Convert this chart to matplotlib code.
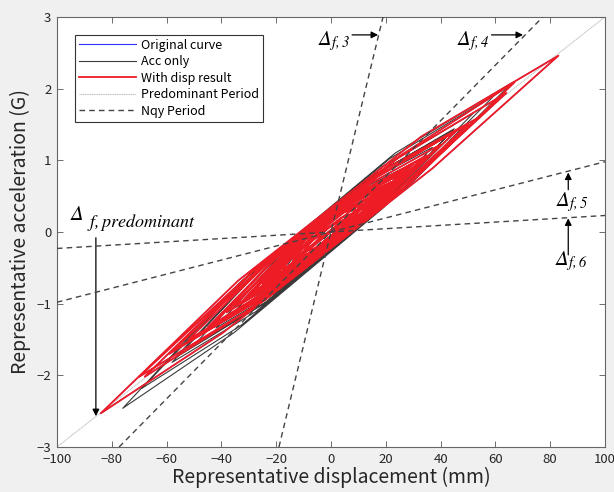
import matplotlib
matplotlib.use('Agg')
import matplotlib.pyplot as plt

plt.rcParams['font.family'] = ['Noto Sans CJK JP', 'DejaVu Sans']
plt.rcParams['mathtext.fontset'] = 'custom'
plt.rcParams['mathtext.rm'] = 'STIXGeneral:italic'
plt.rcParams['mathtext.it'] = 'STIXGeneral:italic'

# "With disp result" trajectory: loop tips and side points
red_x = [0, 3.6, 8.4, 12, 3.9, -6.9, -15, -4.5, 9.5, 20, 6.2, -12.2, -26,
         -7.7, 16.7, 35, 11.3, -20.3, -44, -15.8, 21.8, 50, 17.3, -26.3, -59,
         -21.2, 29.2, 67, 25.9, -28.9, -70, -24.1, 37.1, 83, 32.9, -33.9, -84,
         -39.6, 19.6, 64, 24.4, -28.4, -68, -31.4, 17.4, 54, 20.4, -24.4, -58,
         -26.8, 14.8, 46, 16.6, -22.6, -52, -24.4, 12.4, 40, 14.5, -19.5, -45,
         -21.6, 9.6, 33, 11.7, -16.7, -38, -18.2, 8.2, 28, 10, -14, -32,
         -14.9, 7.9, 25, 9.1, -12.1, -28, -13, 7, 22, 7.9, -10.9, -25,
         -8.5, 13.5, 30, 10.5, -15.5, -35, -19.1, 2.1, 18, 6.3, -9.3, -21,
         -6.9, 11.9, 26, 9.2, -13.2, -30, -16.5, 1.5, 15, 5.1, -8.1, -18,
         -6.6, 8.6, 20, 7.1, -10.1, -23, -12.5, 1.5, 12, 4.2, -6.2, -14,
         -7.1, 2.1, 9, 3.3, -4.3, -10, -5.5, 0.5, 5, -3.1, -13.9, -22,
         -8.2, 10.2, 24, 8.7, -11.7, -27, -14.1, 3.1, 16, 7.6, -3.6, -12,
         -6, 2, 8, 3.8, -1.8, -6, 3]
red_y = [0, 0.05, 0.20, 0.38, 0.29, -0.04, -0.47, -0.22, 0.20, 0.62, 0.38, -0.17, -0.80,
         -0.34, 0.39, 1.07, 0.57, -0.37, -1.33, -0.63, 0.50, 1.50, 0.79, -0.52, -1.70,
         -0.83, 0.69, 2.09, 1.08, -0.56, -2.02, -0.95, 0.89, 2.46, 1.33, -0.68, -2.53,
         -1.41, 0.37, 1.94, 1.03, -0.55, -2.02, -1.13, 0.34, 1.60, 0.89, -0.46, -1.66,
         -0.97, 0.28, 1.42, 0.76, -0.42, -1.50, -0.88, 0.22, 1.22, 0.68, -0.34, -1.33,
         -0.78, 0.15, 1.02, 0.58, -0.28, -1.12, -0.67, 0.13, 0.88, 0.51, -0.21, -0.95,
         -0.56, 0.13, 0.80, 0.48, -0.16, -0.82, -0.49, 0.11, 0.70, 0.43, -0.13, -0.72,
         -0.36, 0.30, 0.95, 0.53, -0.25, -1.02, -0.68, -0.04, 0.60, 0.38, -0.09, -0.62,
         -0.30, 0.26, 0.82, 0.48, -0.19, -0.88, -0.59, -0.05, 0.50, 0.33, -0.06, -0.52,
         -0.28, 0.17, 0.66, 0.41, -0.11, -0.68, -0.46, -0.04, 0.42, 0.30, -0.02, -0.40,
         -0.28, -0.01, 0.32, 0.26, 0.03, -0.28, -0.22, -0.04, 0.18, 0.02, -0.31, -0.70,
         -0.25, 0.31, 0.74, 0.34, -0.27, -0.83, -0.47, 0.04, 0.50, 0.36, 0.02, -0.35,
         -0.15, 0.09, 0.26, 0.20, 0.04, -0.16, 0.10]

# "Acc only" trajectory
blk_x = [0, 4.2, 9.8, 14, 4.4, -8.4, -18, -4.5, 13.5, 27, 8.1, -17.1, -36,
         -11.7, 20.7, 45, 14.4, -26.4, -57, -20.1, 29.1, 66, 23.4, -33.4, -76,
         -35.2, 19.2, 60, 21.3, -30.3, -69, -32.7, 15.7, 52, 19, -25, -58,
         -27.4, 13.4, 44, 15.8, -21.8, -50, -23.9, 10.9, 37, 13.3, -18.3, -42,
         -20.4, 8.4, 30, 10.5, -15.5, -35, -17.3, 6.3, 24, 8.4, -12.4, -28,
         -14.2, 4.2, 18, 6, -10, -22, -11.8, 1.8, 12, 4.2, -6.2, -14,
         -8, 0, 6]
blk_y = [0, 0.02, 0.20, 0.44, 0.35, -0.06, -0.58, -0.30, 0.27, 0.86, 0.51, -0.30, -1.15,
         -0.58, 0.46, 1.44, 0.76, -0.54, -1.76, -0.90, 0.67, 2.08, 1.10, -0.71, -2.46,
         -1.40, 0.34, 1.92, 1.02, -0.63, -2.18, -1.30, 0.25, 1.66, 0.92, -0.49, -1.82,
         -1.11, 0.20, 1.40, 0.80, -0.41, -1.58, -0.98, 0.14, 1.18, 0.70, -0.31, -1.34,
         -0.85, 0.08, 0.96, 0.59, -0.24, -1.12, -0.73, 0.03, 0.77, 0.51, -0.16, -0.90,
         -0.61, -0.03, 0.58, 0.41, -0.10, -0.70, -0.52, -0.09, 0.38, 0.34, 0.01, -0.45,
         -0.38, -0.13, 0.19]

# period lines through the origin (G per mm)
predominant_slope = 0.03
nqy_slopes = [0.158, 0.0388, 0.0098, 0.0023]

xticks = [-100, -80, -60, -40, -20, 0, 20, 40, 60, 80, 100]
yticks = [-3, -2, -1, 0, 1, 2, 3]

fig = plt.figure(figsize=(6.14, 4.92), dpi=100, facecolor='#f0f0f0')
ax = fig.add_axes([0.0928, 0.0915, 0.8925, 0.874])
ax.set_facecolor('white')

ax.axline((0, 0), slope=predominant_slope, color='#bcbcbc', lw=0.8,
          linestyle=(0, (1, 0.6)), label='Predominant Period', zorder=1)
for i, s in enumerate(nqy_slopes):
    ax.axline((0, 0), slope=s, color='#444444', lw=1.0, linestyle=(0, (4, 3)),
              label='Nqy Period' if i == 0 else None, zorder=4)

l_orig, = ax.plot(red_x, red_y, color='#3030ff', lw=0.8, label='Original curve', zorder=2)
l_acc, = ax.plot(blk_x, blk_y, color='#3a3a3a', lw=0.8, label='Acc only', zorder=2.5)
l_disp, = ax.plot(red_x, red_y, color='#ee1c25', lw=1.3, label='With disp result', zorder=3)

ax.set_xlim(-100, 100)
ax.set_ylim(-3, 3)
ax.set_xticks(xticks)
ax.set_yticks(yticks)
ax.tick_params(direction='in', top=True, right=True, length=4, width=0.6,
               color='#555555', labelsize=9.5, labelcolor='#262626', pad=4)
for sp in ax.spines.values():
    sp.set_color('#666666')
    sp.set_linewidth(0.8)

ax.set_xlabel('Representative displacement (mm)', fontsize=14, color='#262626', labelpad=1)
ax.set_ylabel('Representative acceleration (G)', fontsize=14, color='#262626', labelpad=4)

# annotations
arrow = dict(arrowstyle='-|>', color='black', lw=0.9, mutation_scale=10, shrinkA=0, shrinkB=0)
ax.annotate('', xy=(17.2, 2.75), xytext=(7.7, 2.75), arrowprops=arrow)
ax.text(7.0, 2.67, r'$\Delta_{f,3}$', fontsize=15, ha='right', va='center')
ax.annotate('', xy=(70.1, 2.75), xytext=(58.6, 2.75), arrowprops=arrow)
ax.text(58.0, 2.67, r'$\Delta_{f,4}$', fontsize=15, ha='right', va='center')
ax.annotate('', xy=(86.6, 0.83), xytext=(86.6, 0.59), arrowprops=arrow)
ax.text(88.0, 0.42, r'$\Delta_{f,5}$', fontsize=15, ha='center', va='center')
ax.annotate('', xy=(86.6, 0.19), xytext=(86.6, -0.32), arrowprops=arrow)
ax.text(88.0, -0.40, r'$\Delta_{f,6}$', fontsize=15, ha='center', va='center')
ax.annotate('', xy=(-85.8, -2.57), xytext=(-85.8, -0.08), arrowprops=arrow)
ax.text(-95.3, 0.25, r'$\Delta$', fontsize=15, ha='left', va='center')
ax.annotate(r'$f,predominant$', xy=(-95.3, 0.25), xytext=(17, -8),
            textcoords='offset pixels', fontsize=13, ha='left', va='center')

leg = ax.legend(handles=[l_orig, l_acc, l_disp, ax.lines[0], ax.lines[1]],
                loc='upper left', bbox_to_anchor=(0.033, 0.958), borderaxespad=0,
                fontsize=9, handlelength=4.6, handletextpad=0.4, labelspacing=0.28,
                borderpad=0.3, fancybox=False, framealpha=1, edgecolor='#333333')
leg.get_frame().set_linewidth(0.8)

fig.savefig('out.png', dpi=100, facecolor=fig.get_facecolor())
